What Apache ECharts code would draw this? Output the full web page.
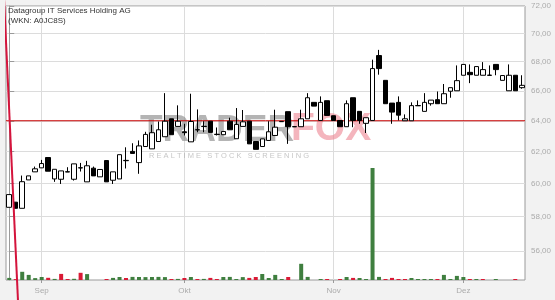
<!DOCTYPE html>
<html><head><meta charset="utf-8">
<script src="https://cdn.jsdelivr.net/npm/echarts@6/dist/echarts.min.js"></script>
<style>html,body{margin:0;padding:0;background:#f2f2f2}#c{width:555px;height:300px}</style>
</head><body><div id="c"></div>
<script>
const titleText = 'Datagroup IT Services Holding AG';
const subtitleText = '(WKN: A0JC8S)';
const dates = [
'2025-08-25','2025-08-26','2025-08-27','2025-08-28','2025-08-29',
'2025-09-01','2025-09-02','2025-09-03','2025-09-04','2025-09-05',
'2025-09-08','2025-09-09','2025-09-10','2025-09-11','2025-09-12',
'2025-09-15','2025-09-16','2025-09-17','2025-09-18','2025-09-19',
'2025-09-22','2025-09-23','2025-09-24','2025-09-25','2025-09-26',
'2025-09-29','2025-09-30',
'2025-10-01','2025-10-02','2025-10-03',
'2025-10-06','2025-10-07','2025-10-08','2025-10-09','2025-10-10',
'2025-10-13','2025-10-14','2025-10-15','2025-10-16','2025-10-17',
'2025-10-20','2025-10-21','2025-10-22','2025-10-23','2025-10-24',
'2025-10-27','2025-10-28','2025-10-29','2025-10-30','2025-10-31',
'2025-11-03','2025-11-04','2025-11-05','2025-11-06','2025-11-07',
'2025-11-10','2025-11-11','2025-11-12','2025-11-13','2025-11-14',
'2025-11-17','2025-11-18','2025-11-19','2025-11-20','2025-11-21',
'2025-11-24','2025-11-25','2025-11-26','2025-11-27','2025-11-28',
'2025-12-01','2025-12-02','2025-12-03','2025-12-04','2025-12-05',
'2025-12-08','2025-12-09','2025-12-10','2025-12-11','2025-12-12'];
const opens = [58.56,58.87,58.50,60.23,60.73,60.98,61.63,60.29,60.27,60.72,
60.27,60.97,60.11,60.96,60.42,61.44,60.21,60.29,61.43,62.02,
61.31,62.33,62.18,62.65,62.96,64.13,63.63,63.28,62.63,63.40,
63.62,63.97,63.10,63.09,63.97,62.83,63.63,63.97,62.65,62.33,
62.72,63.04,63.94,64.60,63.60,63.61,64.13,65.22,64.02,65.33,
64.33,64.02,63.61,65.53,64.62,63.83,64.02,68.43,66.71,65.17,
65.22,64.00,64.00,64.99,64.62,65.13,65.40,65.13,65.97,66.00,
67.06,67.26,67.06,67.06,67.05,67.81,66.71,66.00,67.06,66.21];
const closes = [59.33,58.50,60.12,60.48,60.92,61.25,60.77,60.89,60.79,60.74,
61.23,60.99,61.11,60.48,60.88,60.11,60.73,61.81,61.45,61.89,
62.37,63.11,63.22,63.41,63.97,63.09,63.97,63.22,63.95,63.42,
63.64,63.24,63.12,63.30,63.41,63.76,63.93,62.50,62.15,62.82,
63.28,63.58,63.96,63.61,63.62,64.13,65.53,64.97,65.22,64.35,
64.02,63.61,65.13,64.02,64.02,64.20,67.52,67.52,65.13,64.57,
64.37,64.13,65.00,65.01,65.22,65.37,65.13,65.80,66.21,66.69,
67.81,67.10,67.66,67.45,67.07,67.45,67.04,67.06,66.00,66.37];
const lows = [58.56,58.50,58.50,60.23,60.73,60.98,60.77,60.11,59.98,60.72,
60.19,60.75,60.11,60.48,60.42,60.11,59.98,60.29,60.94,61.89,
60.61,62.33,62.18,62.65,62.96,63.09,63.63,63.04,62.63,63.25,
63.25,63.24,63.04,63.09,63.41,62.83,63.63,62.50,62.15,62.33,
62.72,63.04,63.94,62.50,63.60,63.61,64.13,64.97,64.02,64.35,
64.02,63.61,63.61,63.58,63.80,63.20,64.02,67.10,65.13,63.80,
64.02,64.00,64.00,64.99,64.62,65.00,65.13,65.13,65.53,66.00,
67.06,66.52,67.06,67.06,67.05,67.06,66.71,66.00,66.00,66.14];
const highs = [59.33,58.87,60.50,60.48,61.06,61.48,61.63,60.89,60.79,61.02,
61.23,61.29,61.42,61.06,60.88,61.44,60.73,61.81,62.28,62.54,
62.72,63.28,63.74,63.95,65.84,64.13,65.02,63.80,65.80,64.75,
63.97,63.97,63.56,63.30,64.20,64.84,64.71,63.97,62.65,62.82,
63.97,64.73,63.96,64.60,63.62,64.73,65.84,65.22,65.62,65.33,
64.33,64.02,65.35,65.53,64.62,64.20,68.14,68.83,66.71,65.17,
65.62,64.42,65.22,65.35,65.84,65.37,65.95,66.46,66.21,67.74,
67.81,67.81,67.66,67.97,67.74,67.81,67.04,67.81,67.06,67.06];
const volumes = [2100,900,8200,5100,1900,3000,2200,1100,6100,1000,
1200,7200,5900,0,0,1000,2100,3000,2000,3100,
3000,2900,3000,3100,2900,1000,1100,2000,3000,1000,
1100,2100,1000,3000,3100,1000,2900,2100,3000,6000,
2000,5100,1000,3000,0,16200,3100,0,1000,1000,
0,1000,3000,2100,2000,1000,112000,3100,1000,2100,
1000,1000,2000,1000,1000,1000,1000,5100,1000,4100,
3000,1000,1000,1000,0,1000,0,0,1000,0];
const volumeUp = [1,0,1,1,1,1,0,1,0,0, 1,0,1,1,1,0,1,1,0,1,
1,1,1,1,1,0,1,0,1,0, 1,0,0,1,1,1,1,0,0,1,
1,1,1,0,1,1,1,1,1,0, 1,0,1,0,1,1,1,1,0,0,
0,0,1,1,1,1,0,1,1,1, 1,0,1,0,1,1,1,1,0,1];
const priceTicks = [56,58,60,62,64,66,68,70,72];
const priceMin = 54.35, priceMax = 72;
const supportLevels = [64];
const trendLine = [[-0.8, 72.5], [1.35, 53.2]];
const monthNames = ['Jan','Feb','Mär','Apr','Mai','Jun','Jul','Aug','Sep','Okt','Nov','Dez'];

const L = Math.log;
const monthIdx = [];
for (let i = 1; i < dates.length; i++) {
  if (dates[i].slice(5,7) !== dates[i-1].slice(5,7)) monthIdx.push(i);
}
const fmtPrice = v => Math.exp(v).toFixed(2).replace('.', ',');
const xMin = -0.5, xMax = dates.length - 0.5;

const chart = echarts.init(document.getElementById('c'), null, {renderer: 'canvas'});
const axisGray = '#9a9a9a', labelGray = '#ababab', gridGray = '#dcdcdc';
chart.setOption({
  backgroundColor: '#f2f2f2',
  animation: false,
  grid: {left: 6, right: 30, top: 6, bottom: 20, show: true, backgroundColor: '#fff', borderColor: axisGray, borderWidth: 1},
  xAxis: [
    {type: 'category', data: dates, boundaryGap: true, axisLine: {show: false}, axisTick: {show: false}, axisLabel: {show: false}, splitLine: {show: false}},
    {type: 'value', min: xMin, max: xMax, position: 'bottom',
     axisLine: {show: false},
     axisTick: {show: true, length: 3, customValues: monthIdx, lineStyle: {color: axisGray}},
     axisLabel: {show: true, customValues: monthIdx, margin: 7, color: labelGray, fontSize: 8, fontFamily: 'Liberation Sans',
       formatter: v => monthNames[parseInt(dates[Math.round(v)].slice(5,7), 10) - 1]},
     splitLine: {show: true, lineStyle: {color: gridGray, width: 1}}}
  ],
  yAxis: [
    {type: 'value', position: 'right', min: L(priceMin), max: L(priceMax), scale: true,
     axisLine: {show: true, lineStyle: {color: axisGray}},
     axisTick: {show: true, length: 5, customValues: priceTicks.map(L), lineStyle: {color: axisGray}},
     axisLabel: {show: true, customValues: priceTicks.map(L), margin: 6, color: labelGray, fontSize: 8, fontFamily: 'Liberation Sans', formatter: fmtPrice},
     splitLine: {show: true, lineStyle: {color: gridGray, width: 1}}},
    {type: 'value', min: 0, max: 274000, show: false, splitLine: {show: false}}
  ],
  graphic: [
    {type: 'text', left: 8, top: 7, z: 10, style: {text: titleText, fill: '#333', font: '8px "Liberation Sans"'}},
    {type: 'text', left: 8, top: 17, z: 10, style: {text: subtitleText, fill: '#333', font: '8px "Liberation Sans"'}},
    {type: 'text', left: 140, top: 112, z: 1, silent: true, style: {text: 'TRADER', fill: 'rgba(140,140,140,0.65)', font: 'bold 37px "Liberation Sans"'}},
    {type: 'text', left: 291, top: 110, z: 1, silent: true, style: {text: 'FOX', fill: 'rgba(235,120,135,0.55)', font: 'bold 39px "Liberation Sans"'}},
    {type: 'text', left: 149, top: 152, z: 1, silent: true, style: {text: 'R E A L T I M E   S T O C K   S C R E E N I N G', fill: 'rgba(160,160,160,0.6)', font: '7.5px "Liberation Sans"'}}
  ],
  series: [
    {type: 'bar', xAxisIndex: 0, yAxisIndex: 1, barWidth: 4, z: 2,
     data: volumes.map((v, i) => ({value: v, itemStyle: {color: volumeUp[i] ? '#3f7f3f' : '#d91a35'}}))},
    {type: 'line', xAxisIndex: 1, yAxisIndex: 0, symbol: 'none', z: 3, silent: true,
     lineStyle: {color: '#c80000', width: 1},
     data: [[xMin, L(supportLevels[0])], [xMax, L(supportLevels[0])]]},
    {type: 'candlestick', xAxisIndex: 0, yAxisIndex: 0, barWidth: 5, z: 4,
     data: opens.map((o, i) => [L(o), L(closes[i]), L(lows[i]), L(highs[i])]),
     itemStyle: {color: '#fff', color0: '#000', borderColor: '#000', borderColor0: '#000', borderWidth: 1}},
    {type: 'line', xAxisIndex: 1, yAxisIndex: 0, clip: false, symbol: 'none', z: 5,
     lineStyle: {color: '#d4143c', width: 2},
     data: trendLine.map(p => [p[0], L(p[1])])}
  ]
});
</script></body></html>
